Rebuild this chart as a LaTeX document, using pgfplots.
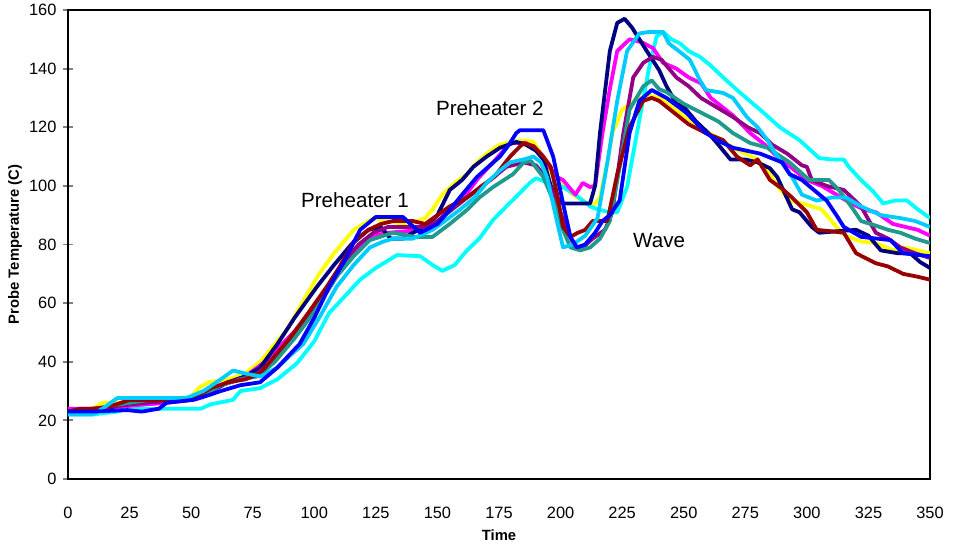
\documentclass[border=0pt]{standalone}
\usepackage{fontspec}
\setmainfont{Liberation Sans}
\usepackage{pgfplots}
\pgfplotsset{compat=1.18}
\usetikzlibrary{calc}

\definecolor{cNavy}{HTML}{000080}
\definecolor{cMagenta}{HTML}{FF00FF}
\definecolor{cYellow}{HTML}{FFFF00}
\definecolor{cCyan}{HTML}{00FFFF}
\definecolor{cPurple}{HTML}{930084}
\definecolor{cMaroon}{HTML}{990000}
\definecolor{cTeal}{HTML}{209A8C}
\definecolor{cBlue}{HTML}{0000FF}
\definecolor{cSky}{HTML}{00CCFF}

\begin{document}
\begin{tikzpicture}
\begin{axis}[
  scale only axis,
  width=431pt, height=234.5pt,
  xmin=0, xmax=350, ymin=0, ymax=160,
  xtick={0,25,...,350},
  ytick={0,20,...,160},
  axis line style={line width=0.9pt},
  xtick style={draw=none},
  ytick style={line width=0.9pt},
  ytick pos=left,
  xtick pos=bottom,
  tick align=center,
  major tick length=4.5pt,
  xticklabel style={yshift=-8pt, text height=6pt, text depth=0pt},
  ticklabel style={font=\fontsize{8.2}{9}\selectfont},
  /pgf/number format/assume math mode=true,
  xlabel={\textbf{Time}},
  ylabel={\textbf{Probe Temperature (C)}},
  label style={font=\fontsize{7.4}{9}\selectfont},
  xlabel style={at={(axis description cs:0.5,0)}, anchor=center, yshift=-28pt},
  ylabel style={at={(axis description cs:0,0.5)}, anchor=center, yshift=26.5pt},
  every axis plot/.append style={line width=1.9pt, line join=round, no markers},
]
% yellow
\addplot[cYellow] coordinates {(0,23)(8,23)(14,26)(20,26)(35,27)(50,28)(53,31)(57,33)(65,34)(72,36)(78,40)(84,46)(89,51)(95,60)(102,70)(108,77)(116,85)(124,89)(130,88)(136,87)(142,88)(145,89)(148,92)(152,97)(157,101)(162,104)(166,108)(170,111)(175,114)(180,115)(185,115.5)(189,115)(192,111)(194,107)(197,103)(201,100)(205,97)(209,95)(213,93)(216,96)(219,108)(221,118)(225,126)(230,129)(235,131)(240,130)(245,127)(250,124)(255,121)(260,118)(265,116)(270,113)(275,111)(280,109)(285,104)(288,100)(293,95)(298,94)(306,92)(312,86)(316,83)(322,81)(328,80.5)(335,78)(340,79)(345,78)(350,77)};
% cyan
\addplot[cCyan] coordinates {(0,22)(10,22)(20,23)(24,24)(40,24)(54,24)(58,25.5)(67,27)(70,30)(78,31)(85,34)(93,39.5)(100,47)(106,56.6)(112,62)(118.6,68)(125,72)(133.6,76.4)(143,76)(148,73)(152,71)(157,73)(162,78)(167,82)(172.6,88.4)(178,93)(183.5,97.6)(187.5,101)(190,102.6)(195,101)(201,99.6)(206,97)(212,93)(215,92)(220,91)(223,91)(227,99.6)(231,118)(236,140.6)(239,151)(241.6,152.5)(245,150)(248.5,148.6)(252,146)(256.6,144)(261,141)(266,137)(273,131.7)(281,126)(289,120)(297,115.6)(305,109.5)(310,109)(315,109)(317,106.5)(322,102)(327,98)(331,94)(336,95)(340.6,95)(345,92)(350,89)};
% magenta
\addplot[cMagenta] coordinates {(0,24)(8,24)(15,24)(25,25)(40,26)(50,27)(58,30)(65,33)(72,35)(80,40)(88,47)(94,52)(99.5,56.6)(106,65)(112,73)(118,79)(124,83)(130,84)(137,84.5)(145,85)(148,86)(155,92)(162,97.6)(167,103)(172.6,108)(179.5,114.6)(186,114.6)(192,111)(195,107)(198.5,103)(201,102)(204,99)(206,97)(209,101)(212,99.6)(214,100)(217,118)(220,133)(223,146)(228,150)(233,149)(237.5,147)(241.6,142)(247,140)(252,137)(257,135)(261,130)(270,124)(277,118)(283,114)(288,110)(294,106)(300,102)(306,100)(312,97)(318,94)(323,92)(328,91)(335,87)(340,86)(345,85)(350,83)};
% navy
\addplot[cNavy] coordinates {(0,23)(10,23)(20,25)(30,26)(45,27)(50,27)(58,30)(65,33)(72,35)(78,38)(85,46)(92,55)(101,65.5)(108,73)(115,80)(122,85)(127,86)(131,82)(136,82)(140,84)(145,86)(150,90)(155,98.6)(160,102)(164.6,106.5)(170,110)(175.4,113)(182,115)(186,114)(190,112)(193,109)(196,100)(198.5,96)(201,94)(206,94)(212,94)(214,100)(216,118)(220,146)(223,155.6)(226,157)(229,154)(235,146)(240,139.5)(243,134)(247,128)(250,127)(255,122)(260,118)(263.5,114.6)(269,109)(275,109)(280,108)(285,106)(288,103)(294,92)(297,91)(302,86)(305,84)(312,84.5)(320,85)(325,83)(330,78)(337,77)(342,77)(346,74)(350,72)};
% purple
\addplot[cPurple] coordinates {(0,23)(10,24)(20,25)(30,26)(45,27)(55,29)(62,32)(70,34)(77,36)(85,42)(92,50)(99,57)(106,66)(112,74)(118,80)(124,84)(130,86)(140,86)(146,86)(150,88)(156,92)(162,96)(170,101)(178,106.5)(185,108)(190,107)(194,103)(197,97.6)(202.6,85)(206,79)(209,79)(213,82)(218,85)(221,91)(225.5,118)(229.5,137)(233.6,142)(237.5,144)(241,143)(247,137)(252,134)(257,130)(263,127)(270,123.5)(276,120)(281,118)(286,114)(292,111)(298,107)(300,106.5)(302,102)(308,100)(315,98.6)(322,93)(328,84)(333,82)(338,79)(344,77)(350,75.4)};
% teal
\addplot[cTeal] coordinates {(0,23)(10,23)(17,25)(25,26)(33,27)(50,27)(56,29)(62,32)(70,34)(77,35)(84,40)(92,48)(100,57)(109,69)(116,76)(122.6,81.5)(132,84)(141,82.6)(148,82.6)(155,87)(162,91.8)(167,96)(172.6,99.6)(180.7,104)(185,108)(188,108.5)(193,103)(197,95)(200,87)(204,79)(208,78)(212,79)(216,82)(220,88)(224,106.5)(228,126)(233.6,134)(237,136)(240,133)(243,132)(250,128)(257,125)(264,122)(270,118)(277,114.6)(284,113)(293,108)(301,102)(305,102)(309,102)(313,98.6)(318,93)(322,88)(327,86.7)(333,85)(338,84)(344,82)(350,80.5)};
% maroon
\addplot[cMaroon] coordinates {(0,23)(5,24)(12,24)(18,25)(25,27)(35,27)(45,27)(52,28)(58,31)(65,33)(72,34)(78,36)(84,42)(90,48)(97,56)(105,65.5)(110,72)(116,81)(122,85)(127,87)(132,88)(140,88)(145,87)(150,90)(155,93)(162,96)(168,100)(173,103)(179.5,110)(183,113)(185,114.6)(189,113.6)(193,110)(196,106.5)(198.5,97.6)(201,86)(204,82.6)(207,84)(210,85)(213,88)(219,88)(223,104)(228,120)(233.5,129)(237,130)(240,129)(246,125)(252,121)(259,118)(266,115.6)(271.6,110)(277,107)(280,109)(285,102)(290,99)(294,96)(300,91)(304,85)(310,84.5)(315,84)(320,77)(328,73.6)(333,72.5)(339,70)(345,69)(350,68)};
% sky blue
\addplot[cSky] coordinates {(0,22)(10,22)(14,24)(20,27.6)(30,27.6)(48,27.6)(55,30)(62,34)(67,37)(72,36)(78,35)(85,38)(90,42)(95.5,46)(102,55)(109,65.5)(116,73)(122.6,79)(128,81)(132,82)(140,82)(148,85)(153,88)(159,91.8)(165,96)(170,101)(175,105)(179.5,108)(185,109)(189,110)(192,108)(194.5,103)(198.5,88)(201,79)(205,80)(210,83)(215,89)(219,108)(223,129)(227,146)(232,152)(236,152.5)(241.6,152.5)(244,148.6)(248,146)(252.5,143)(256.6,136)(259,132.7)(266,131.7)(270,130)(275.6,123.5)(280,120)(284,115.6)(288,110)(294,103)(298,97)(304,95)(310,96)(316,96)(322,93)(330,90)(338,89)(344,88)(350,86)};
% blue
\addplot[cBlue] coordinates {(0,23)(10,23)(24,23.5)(30,23)(37,24)(40,26)(51,27)(55,28)(62,30)(70,32)(78,33)(85,38)(94,46)(100,55)(106,65.5)(112,74)(118.6,85)(125,89.4)(131,89.4)(136,89.4)(139,87)(143,84)(150,87)(155,91.8)(160,97)(166,103)(170,106)(175.4,110)(179,114)(182,118)(183.5,119)(193,119)(197,110)(201,94)(204,82.6)(206.6,79)(210,80)(214,84)(217,88)(220,90)(224,95)(228,118)(232,129)(237,132.7)(243,130)(251,125)(259,118)(265,115)(270,113)(281,111)(290,108)(293,104)(298,102)(308,95)(312,90)(315,86)(322,82.6)(334,81.5)(339,77)(350,76)};

\node[font=\fontsize{10.3}{12}\selectfont] at (axis cs:116.5,95.2) {Preheater 1};
\node[font=\fontsize{10.3}{12}\selectfont] at (axis cs:171.3,126.6) {Preheater 2};
\node[font=\fontsize{10.3}{12}\selectfont] at (axis cs:240,81.2) {Wave};
\end{axis}
\pgfresetboundingbox
\path[use as bounding box] ($(current axis.south west)+(-34pt,-32.5pt)$) rectangle ($(current axis.north east)+(11.5pt,5pt)$);
\end{tikzpicture}
\end{document}
